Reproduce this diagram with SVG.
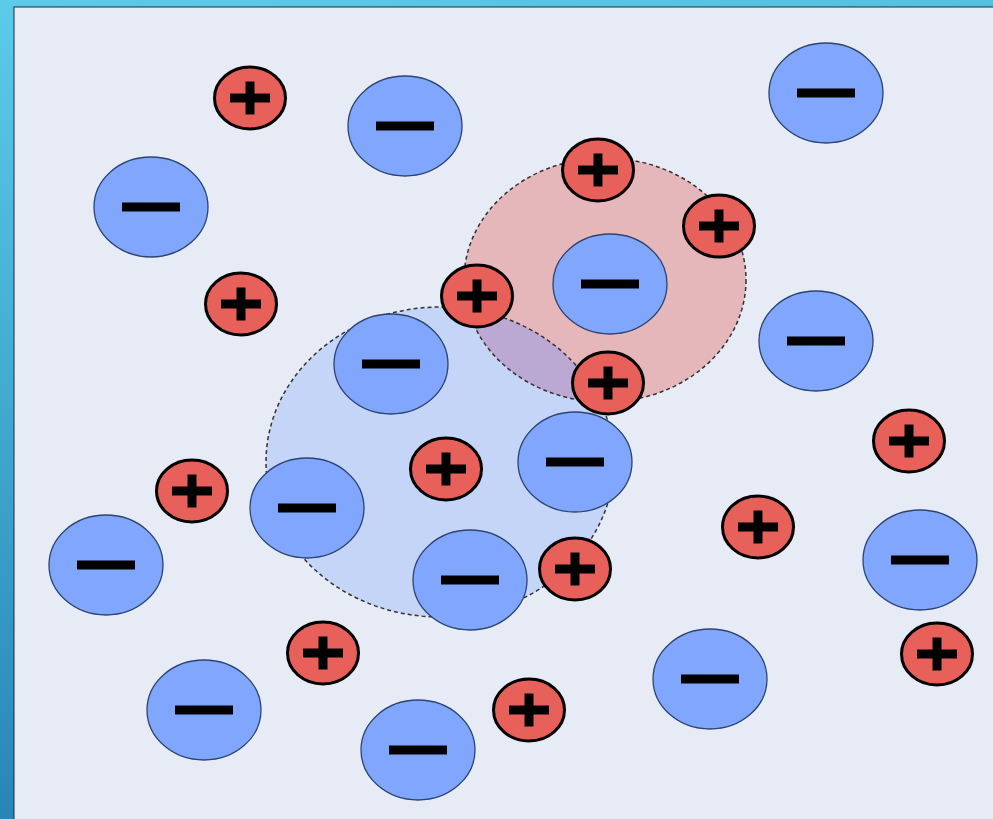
<svg xmlns="http://www.w3.org/2000/svg" xmlns:xlink="http://www.w3.org/1999/xlink" width="993" height="819" viewBox="0 0 993 819">
<style>
.cat{fill:#e8605a;stroke:#000;stroke-width:3}
.an{fill:#80a6fd;stroke:#2c4470;stroke-width:1.3}
.bar{fill:#000}
.shell{stroke:#333;stroke-width:1.5;stroke-dasharray:4 3;fill:none}
</style>
<defs>
<linearGradient id="bg" x1="0" y1="0" x2="0.15" y2="1">
<stop offset="0" stop-color="#5ccbea"/>
<stop offset="1" stop-color="#2784b6"/>
</linearGradient>
<g id="plus">
<ellipse class="cat" cx="0" cy="0" rx="35.5" ry="31"/>
<rect class="bar" x="-20" y="-4.5" width="40" height="9"/>
<rect class="bar" x="-4.5" y="-16.5" width="9" height="33"/>
</g>
<g id="minus">
<ellipse class="an" cx="0" cy="0" rx="57" ry="50"/>
<rect class="bar" x="-29" y="-4.5" width="58" height="9"/>
</g>
<clipPath id="blueClip"><ellipse cx="440" cy="462" rx="174" ry="155"/></clipPath>
</defs>
<rect x="0" y="0" width="993" height="819" fill="url(#bg)"/>
<rect x="14" y="7" width="985" height="820" fill="#e6ebf6" stroke="#1f2a3a" stroke-width="1"/>
<g id="shells">
<ellipse id="shell-blue" cx="440" cy="462" rx="174" ry="155" fill="#c5d5f8"/>
<ellipse id="shell-red" cx="605" cy="280" rx="141" ry="122" fill="#e6b7ba"/>
<ellipse cx="605" cy="280" rx="141" ry="122" fill="#bba9d3" clip-path="url(#blueClip)"/>
<ellipse class="shell" cx="440" cy="462" rx="174" ry="155"/>
<ellipse class="shell" cx="605" cy="280" rx="141" ry="122"/>
</g>
<g id="anions">
<g id="a1"><use xlink:href="#minus" x="405" y="126"/></g>
<g id="a2"><use xlink:href="#minus" x="826" y="93"/></g>
<g id="a3"><use xlink:href="#minus" x="151" y="207"/></g>
<g id="a4"><use xlink:href="#minus" x="610" y="284"/></g>
<g id="a5"><use xlink:href="#minus" x="816" y="341"/></g>
<g id="a6"><use xlink:href="#minus" x="391" y="364"/></g>
<g id="a7"><use xlink:href="#minus" x="575" y="462"/></g>
<g id="a8"><use xlink:href="#minus" x="307" y="508"/></g>
<g id="a9"><use xlink:href="#minus" x="106" y="565"/></g>
<g id="a10"><use xlink:href="#minus" x="470" y="580"/></g>
<g id="a11"><use xlink:href="#minus" x="920" y="560"/></g>
<g id="a12"><use xlink:href="#minus" x="710" y="679"/></g>
<g id="a13"><use xlink:href="#minus" x="204" y="710"/></g>
<g id="a14"><use xlink:href="#minus" x="418" y="750"/></g>
</g>
<g id="cations">
<g id="c1"><use xlink:href="#plus" x="250" y="98"/></g>
<g id="c2"><use xlink:href="#plus" x="598" y="170"/></g>
<g id="c3"><use xlink:href="#plus" x="719" y="226"/></g>
<g id="c4"><use xlink:href="#plus" x="241" y="304"/></g>
<g id="c5"><use xlink:href="#plus" x="477" y="296"/></g>
<g id="c6"><use xlink:href="#plus" x="608" y="383"/></g>
<g id="c7"><use xlink:href="#plus" x="909" y="441"/></g>
<g id="c8"><use xlink:href="#plus" x="446" y="469"/></g>
<g id="c9"><use xlink:href="#plus" x="192" y="491"/></g>
<g id="c10"><use xlink:href="#plus" x="758" y="527"/></g>
<g id="c11"><use xlink:href="#plus" x="575" y="569"/></g>
<g id="c12"><use xlink:href="#plus" x="937" y="654"/></g>
<g id="c13"><use xlink:href="#plus" x="323" y="653"/></g>
<g id="c14"><use xlink:href="#plus" x="529" y="710"/></g>
</g>
</svg>
